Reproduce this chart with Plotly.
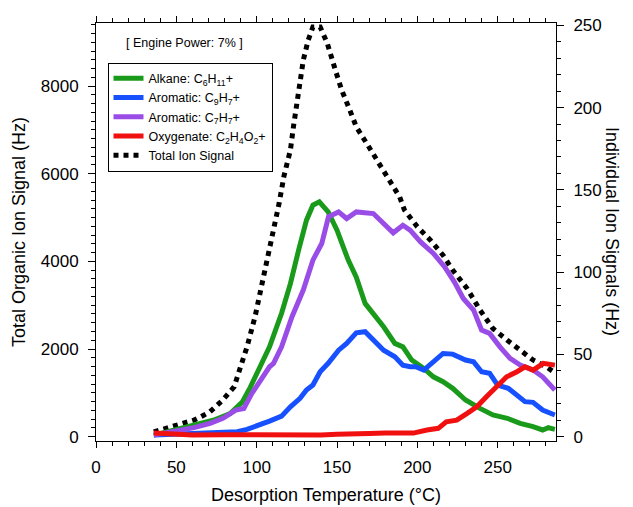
import plotly.graph_objects as go

# ---- data ----
temp_total = [36, 40, 48, 55, 61, 65, 71, 79, 86, 90, 94, 99, 103, 107, 110, 114, 117, 121, 123,
              126, 129, 132, 135, 139.5, 144, 149, 153, 158, 162, 168.5, 175, 182, 189, 192, 200,
              208, 216, 222, 231, 239, 247, 256, 264, 272, 280, 286]
total_signal = [110, 150, 230, 300, 380, 450, 570, 840, 1140, 1600, 2050, 2740, 3420, 4100, 4640,
                5330, 5950, 6540, 7100, 7900, 8590, 9040, 9350, 9350, 8970, 8360, 7900, 7450, 7070,
                6690, 6310, 5850, 5470, 5170, 4790, 4490, 4140, 3800, 3380, 2890, 2470, 2200, 1980,
                1750, 1600, 1450]

temp_alkane = [36, 48, 61, 73, 83.5, 91, 96, 102, 108, 115.5, 121, 126, 131, 135, 139, 144.5, 150,
               157, 162, 167.5, 172.5, 179, 186, 191, 196.5, 204, 210, 216, 222, 230, 239, 247,
               256, 264, 272, 278, 281.5, 285.6]
alkane = [1, 4, 7, 10, 14, 21, 30, 42.5, 54.6, 75, 93, 113, 131.6, 140.7, 142.7, 136.6, 125.5,
          107.3, 97, 81, 75, 66.8, 56.7, 54.6, 46.6, 41.5, 36.4, 33.4, 29.4, 22.3, 17.2, 13.2,
          11.2, 8.1, 6.1, 4.1, 5.5, 4.5]

temp_c9h7 = [36, 59, 77, 88, 94, 102, 108, 115.5, 121, 127, 131, 135, 139.5, 144.5, 151, 156, 162,
             167.5, 172.5, 179, 186, 191, 195.5, 199, 204, 210, 216, 222, 230, 235, 240, 245, 250,
             256.6, 262, 267, 272, 278, 285.6]
c9h7 = [1, 1.6, 2.4, 3, 4.5, 7.1, 9.5, 12.5, 18.2, 23.3, 28.4, 31.4, 39.5, 44.6, 52.6, 56.7, 63.1,
        63.8, 58.7, 52.6, 48.6, 43.5, 42.5, 42.5, 40.5, 45.5, 50.6, 50.2, 46.6, 45.5, 39.5, 38.5,
        31.4, 29.4, 25.3, 21.3, 20.9, 16.2, 13.2]

temp_c7h7 = [36, 48, 61, 71, 79, 87, 92, 97, 104, 108, 110.5, 115.5, 122, 129, 135, 140.5, 144.7,
             151, 156, 162, 172.6, 179, 185, 191, 195.5, 202, 210, 217, 223, 228.6, 235, 240, 245,
             251.4, 257.7, 264, 272, 278, 285.6]
c7h7 = [1, 3, 5.5, 8.1, 11.2, 16.2, 17.2, 26.3, 36.4, 42.5, 44.6, 54.6, 72.9, 89.1, 107.3, 117.4,
        133.6, 136.6, 132.6, 136.6, 135.6, 129.6, 123.9, 128.5, 125.5, 118.4, 111.4, 103.2, 94.1,
        84, 76.9, 64.8, 62.8, 54.6, 47.6, 43.5, 40.5, 36.4, 28.4]

temp_oxy = [36, 45, 60, 80, 100, 120, 140, 150, 160, 170, 180, 190, 197.5, 206, 213, 218, 224.5,
            231, 237, 243, 249.4, 255.6, 262, 267, 272, 278.4, 285.6]
oxygenate = [2.2, 1.5, 1.0, 1.2, 1.0, 1.2, 1.0, 1.5, 1.4, 2.0, 2.2, 2.4, 2.2, 4.1, 5.1, 9.1, 10.1,
             14.2, 18.2, 24.3, 30.4, 36.4, 39.5, 42.5, 40.5, 44.6, 43.5]

x_ticks = [0, 50, 100, 150, 200, 250]
y_ticks = [0, 2000, 4000, 6000, 8000]
y2_ticks = [0, 50, 100, 150, 200, 250]

FONT = "Liberation Sans, Arial, Helvetica, sans-serif"

fig = go.Figure()
fig.add_trace(go.Scatter(x=temp_alkane, y=alkane, yaxis="y2", mode="lines",
                         name="Alkane: C<sub>6</sub>H<sub>11</sub>+",
                         line=dict(color="#1a9a1a", width=5)))
fig.add_trace(go.Scatter(x=temp_c9h7, y=c9h7, yaxis="y2", mode="lines",
                         name="Aromatic: C<sub>9</sub>H<sub>7</sub>+",
                         line=dict(color="#1750ff", width=5)))
fig.add_trace(go.Scatter(x=temp_c7h7, y=c7h7, yaxis="y2", mode="lines",
                         name="Aromatic: C<sub>7</sub>H<sub>7</sub>+",
                         line=dict(color="#9a4de6", width=5)))
fig.add_trace(go.Scatter(x=temp_oxy, y=oxygenate, yaxis="y2", mode="lines",
                         name="Oxygenate: C<sub>2</sub>H<sub>4</sub>O<sub>2</sub>+",
                         line=dict(color="#f01010", width=5)))
fig.add_trace(go.Scatter(x=temp_total, y=total_signal, yaxis="y", mode="lines",
                         name="Total Ion Signal",
                         line=dict(color="black", width=5, dash="dot")))

axis_common = dict(showline=True, linecolor="black", linewidth=1, ticks="outside",
                   tickcolor="black", tickwidth=1, showgrid=False, zeroline=False,
                   tickfont=dict(size=17, family=FONT, color="black"))

fig.update_layout(
    width=633, height=507,
    margin=dict(l=96, r=77, t=23, b=66, autoexpand=False),
    plot_bgcolor="white", paper_bgcolor="white",
    font=dict(family=FONT, size=17, color="black"),
    showlegend=True,
    legend=dict(x=0.025, y=0.905, xanchor="left", yanchor="top",
                bgcolor="white", bordercolor="black", borderwidth=1,
                font=dict(size=12.5, family=FONT, color="black"),
                itemwidth=30, tracegroupgap=0),
    xaxis=dict(range=[0, 286.3], tickvals=x_ticks, ticklen=6, mirror="ticks",
               minor=dict(dtick=10, tick0=0, ticks="outside", ticklen=4,
                          tickcolor="black", tickwidth=1),
               ticklabelstandoff=5,
               title=dict(text="Desorption Temperature (°C)", font=dict(size=18),
                          standoff=11),
               **axis_common),
    yaxis=dict(range=[-98, 9439], tickvals=y_ticks, ticklen=7,
               minor=dict(dtick=200, tick0=0, ticks="outside", ticklen=4,
                          tickcolor="black", tickwidth=1),
               ticklabelstandoff=6,
               title=dict(text="Total Organic Ion Signal (Hz)", font=dict(size=18),
                          standoff=10),
               **axis_common),
    yaxis2=dict(range=[-2.6, 251.4], tickvals=y2_ticks, ticklen=7, overlaying="y",
                side="right",
                minor=dict(dtick=10, tick0=0, ticks="outside", ticklen=4,
                           tickcolor="black", tickwidth=1),
                ticklabelstandoff=6,
                **axis_common),
    annotations=[
        dict(text="Individual Ion Signals (Hz)", xref="paper", yref="paper",
             x=1.1217, y=0.5, xanchor="center", yanchor="middle", textangle=90,
             showarrow=False, font=dict(size=18, family=FONT, color="black")),
        dict(text="[ Engine Power: 7% ]", xref="paper", yref="paper",
             x=0.192, y=0.952, xanchor="center", yanchor="middle", showarrow=False,
             font=dict(size=12.5, family=FONT, color="black")),
    ],
)

fig.write_html("out.html")
